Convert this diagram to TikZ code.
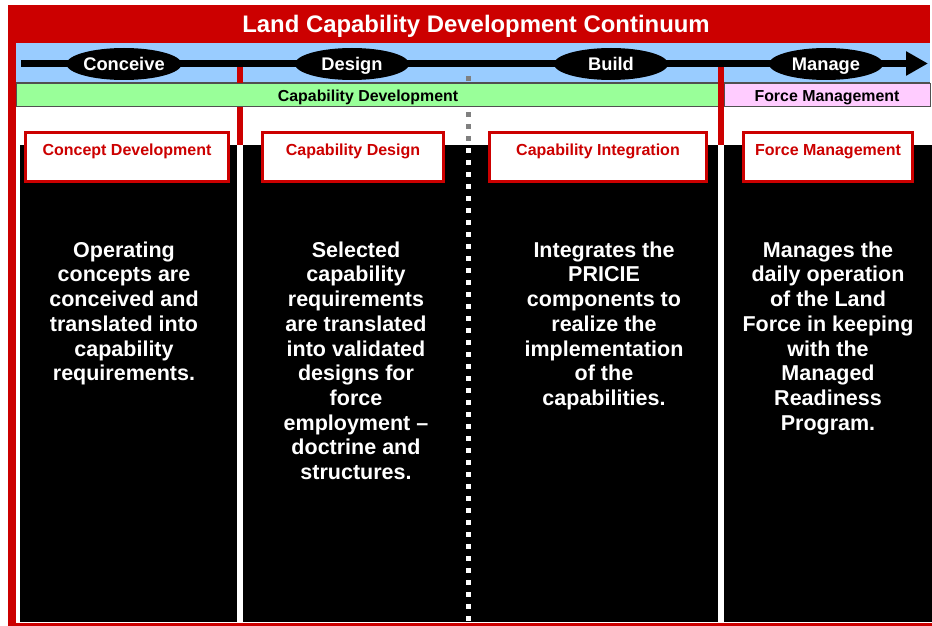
\documentclass[tikz,border=0pt]{standalone}
\usepackage{fontspec}
\setmainfont{Liberation Sans}
\usetikzlibrary{shapes.geometric,arrows.meta}
\definecolor{lcred}{HTML}{CC0000}
\definecolor{lcblue}{HTML}{99CCFF}
\definecolor{lcgreen}{HTML}{99FF99}
\definecolor{lcpink}{HTML}{FFCCFF}
\definecolor{bandedge}{HTML}{505050}
\definecolor{dotgray}{HTML}{808080}

\begin{document}
\begin{tikzpicture}[x=1pt,y=-1pt,
  phase/.style={ellipse, fill=black, text=white,
    font=\fontsize{18.3}{20}\selectfont\bfseries,
    minimum width=114pt, minimum height=32pt, inner sep=0pt,
    text height=13pt, text depth=0.5pt},
  bandtext/.style={font=\fontsize{15.9}{18}\selectfont\bfseries, anchor=base, inner sep=0pt},
  stagebox/.style={draw=lcred, line width=3pt, fill=white, rectangle,
    minimum height=49pt, inner sep=0pt},
  stagelabel/.style={text=lcred, font=\fontsize{16}{18}\selectfont\bfseries,
    anchor=base, inner sep=0pt},
  bodytext/.style={text=white, font=\fontsize{21.5}{24.7}\selectfont\bfseries,
    align=center, anchor=north, inner sep=0pt},
  divider/.style={fill=lcred},
  dots/.style={line width=5pt, dash pattern=on 5pt off 7pt}
]
\useasboundingbox (0,0) rectangle (932,626);
\fill[white] (0,0) rectangle (932,626);

% frame: title bar, left edge, bottom edge
\fill[lcred] (8,5) rectangle (930,43);
\fill[lcred] (8,5) rectangle (16,626);
\fill[lcred] (8,623) rectangle (932,626);
\node[text=white, font=\fontsize{23.9}{26}\selectfont\bfseries, anchor=base, inner sep=0pt]
  (title) at (476,33) {Land Capability Development Continuum};

% phase band
\fill[lcblue] (16,43) rectangle (930,82);
\draw[bandedge, line width=0.8pt] (16,82) -- (930,82);

% column dividers
\fill[divider] (237,66) rectangle (243,145);
\coordinate (dottop) at (468,76);
\coordinate (dotmid) at (468,145);
\draw[dots, dotgray] (dottop) -- (dotmid);

% stage bands
\node[draw=bandedge, line width=0.8pt, fill=lcgreen, rectangle, inner sep=0pt,
  minimum width=702pt, minimum height=23pt] (devband) at (367,94.5) {};
\node[draw=bandedge, line width=0.8pt, fill=lcpink, rectangle, inner sep=0pt,
  minimum width=206pt, minimum height=23pt] (mgtband) at (827,94.5) {};
\node[bandtext] (devtext) at (368,101) {Capability Development};
\node[bandtext] (mgttext) at (827,101) {Force Management};
\fill[divider] (718,66) rectangle (724,145);

% timeline arrow with phases
\coordinate (arrowstart) at (21,63.5);
\coordinate (arrowend) at (928,63.5);
\draw[line width=7pt, -{Triangle[length=22pt,width=23pt]}] (arrowstart) -- (arrowend);
\node[phase] (conceive) at (124,64) {Conceive};
\node[phase] (design) at (352,64) {Design};
\node[phase] (build) at (611,64) {Build};
\node[phase] (manage) at (826,64) {Manage};

% columns
\fill[black] (20,145) rectangle (237,622);
\fill[black] (243,145) rectangle (718,622);
\fill[black] (724,145) rectangle (932,622);
\coordinate (dotlow) at (468,148);
\coordinate (dotend) at (468,622);
\draw[dots, white] (dotlow) -- (dotend);

% stage boxes
\node[stagebox, minimum width=203pt] (box1) at (127,157) {};
\node[stagebox, minimum width=181pt] (box2) at (353,157) {};
\node[stagebox, minimum width=217pt] (box3) at (598,157) {};
\node[stagebox, minimum width=169pt] (box4) at (828,157) {};
\node[stagelabel] (lab1) at (127,155) {Concept Development};
\node[stagelabel] (lab2) at (353,155) {Capability Design};
\node[stagelabel] (lab3) at (598,155) {Capability Integration};
\node[stagelabel] (lab4) at (828,155) {Force Management};

% descriptions
\node[bodytext] (txt1) at (124,241.5) {Operating\\concepts are\\conceived and\\translated into\\capability\\requirements.};
\node[bodytext] (txt2) at (356,241.5) {Selected\\capability\\requirements\\are translated\\into validated\\designs for\\force\\employment –\\doctrine and\\structures.};
\node[bodytext] (txt3) at (604,241.5) {Integrates the\\PRICIE\\components to\\realize the\\implementation\\of the\\capabilities.};
\node[bodytext] (txt4) at (828,241.5) {Manages the\\daily operation\\of the Land\\Force in keeping\\with the\\Managed\\Readiness\\Program.};
\end{tikzpicture}
\end{document}
